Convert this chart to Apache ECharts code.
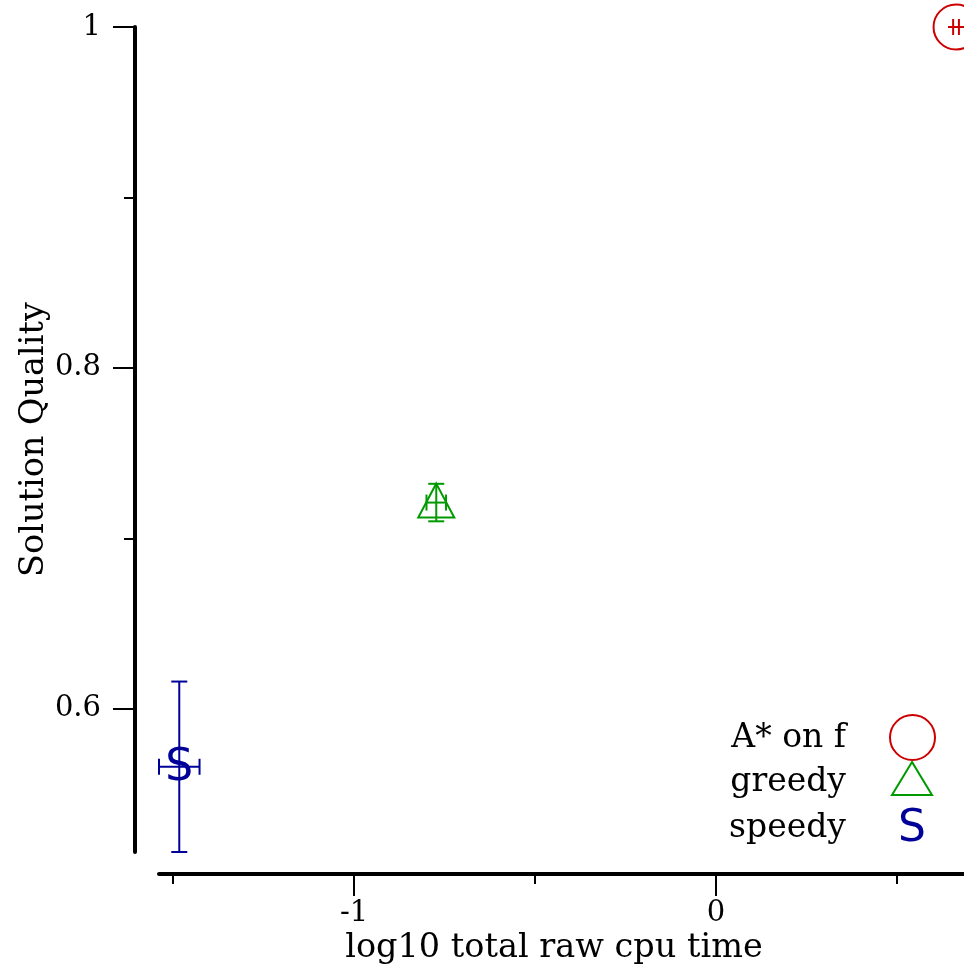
<!DOCTYPE html>
<html><head><meta charset="utf-8">
<script src="https://cdn.jsdelivr.net/npm/echarts@6/dist/echarts.min.js"></script>
<style>html,body{margin:0;padding:0;background:#fff}#c{width:964px;height:972px}</style>
</head><body><div id="c"></div>
<script>
// ---- data ----
const seriesNames = ['A* on f', 'greedy', 'speedy'];
const xValues = [0.663, -0.773, -1.483];   // log10 total raw cpu time
const yValues = [1.0, 0.721, 0.566];       // solution quality
const xErrors = [0.008, 0.027, 0.056];
const yErrors = [0.0, 0.011, 0.050];
const seriesColors = ['#cc0000', '#009900', '#000099'];
const markerKinds = ['circle', 'triangle', 'S'];
const yMajorTicks = [0.6, 0.8, 1.0];
const yMinorTicks = [0.7, 0.9];
const xMajorTicks = [-1, 0];
const xMinorTicks = [-1.5, -0.5, 0.5];
const xMin = -1.539, xMax = 0.685, yMin = 0.516, yMax = 1.0;

const SERIF = 'DejaVu Serif';
const chart = echarts.init(document.getElementById('c'), null, {renderer: 'canvas'});

function drawMarker(kind, cx, cy, color) {
  if (kind === 'circle') {
    return {type: 'circle', shape: {cx: cx, cy: cy, r: 22.5},
      style: {fill: 'none', stroke: color, lineWidth: 2}};
  }
  if (kind === 'triangle') {
    return {type: 'polygon', shape: {points: [[cx, cy - 19], [cx - 18, cy + 15], [cx + 18, cy + 15]]},
      style: {fill: 'none', stroke: color, lineWidth: 2}};
  }
  return {type: 'text', x: cx, y: cy + 2,
    style: {text: 'S', fill: color, font: '44px "DejaVu Sans"', align: 'center', verticalAlign: 'middle'}};
}

function makeRender(idx) {
  return function (params, api) {
    const x = api.value(0), y = api.value(1), xe = api.value(2), ye = api.value(3);
    const c = api.coord([x, y]);
    const t = api.coord([x, y + ye]), b = api.coord([x, y - ye]);
    const l = api.coord([x - xe, y]), r = api.coord([x + xe, y]);
    const color = seriesColors[idx];
    const ls = {stroke: color, lineWidth: 2};
    const cap = 8;
    const kids = [
      {type: 'line', shape: {x1: t[0], y1: t[1], x2: b[0], y2: b[1]}, style: ls},
      {type: 'line', shape: {x1: t[0] - cap, y1: t[1], x2: t[0] + cap, y2: t[1]}, style: ls},
      {type: 'line', shape: {x1: b[0] - cap, y1: b[1], x2: b[0] + cap, y2: b[1]}, style: ls},
      {type: 'line', shape: {x1: l[0], y1: l[1], x2: r[0], y2: r[1]}, style: ls},
      {type: 'line', shape: {x1: l[0], y1: l[1] - cap, x2: l[0], y2: l[1] + cap}, style: ls},
      {type: 'line', shape: {x1: r[0], y1: r[1] - cap, x2: r[0], y2: r[1] + cap}, style: ls},
      drawMarker(markerKinds[idx], c[0], c[1], color)
    ];
    return {type: 'group', children: kids};
  };
}

const series = seriesNames.map((n, i) => ({
  type: 'custom', name: n, xAxisIndex: 0, yAxisIndex: 0, clip: false,
  renderItem: makeRender(i),
  data: [[xValues[i], yValues[i], xErrors[i], yErrors[i]]]
}));

const legendX = 846, legendIconX = 912;
const legendRows = [738, 782, 828];
const legendGraphics = [];
seriesNames.forEach((n, i) => {
  legendGraphics.push({type: 'text', x: legendX, y: legendRows[i],
    style: {text: n, fill: '#000', font: '33px "' + SERIF + '"', align: 'right', verticalAlign: 'middle'}});
});
legendGraphics.push({type: 'circle', shape: {cx: legendIconX + 0.5, cy: 737.5, r: 22.5},
  style: {fill: 'none', stroke: seriesColors[0], lineWidth: 2}});
legendGraphics.push({type: 'polygon', shape: {points: [[legendIconX, 762], [legendIconX - 20, 795], [legendIconX + 20, 795]]},
  style: {fill: 'none', stroke: seriesColors[1], lineWidth: 2}});
legendGraphics.push({type: 'text', x: legendIconX, y: 830,
  style: {text: 'S', fill: seriesColors[2], font: '44px "DejaVu Sans"', align: 'center', verticalAlign: 'middle'}});

const axisLineStyle = {color: '#000', width: 4};
const option = {
  animation: false,
  backgroundColor: '#fff',
  grid: {left: 159, top: 27, width: 805, height: 825, containLabel: false},
  xAxis: [
    {type: 'value', min: xMin, max: xMax, position: 'bottom', offset: 22,
      axisLine: {show: true, onZero: false, lineStyle: axisLineStyle},
      axisTick: {show: true, length: 22, lineStyle: {color: '#000', width: 2}, customValues: xMajorTicks},
      axisLabel: {show: true, customValues: xMajorTicks, margin: 25, color: '#000', fontFamily: SERIF, fontSize: 29},
      splitLine: {show: false},
      name: 'log10 total raw cpu time', nameLocation: 'middle', nameGap: 57, nameMoveOverlap: false,
      nameTextStyle: {color: '#000', fontFamily: SERIF, fontSize: 33.5, padding: [0, 15, 0, 0]}},
    {type: 'value', min: xMin, max: xMax, position: 'bottom', offset: 22,
      axisLine: {show: false, onZero: false},
      axisTick: {show: true, length: 10, lineStyle: {color: '#000', width: 2}, customValues: xMinorTicks},
      axisLabel: {show: false}, splitLine: {show: false}}
  ],
  yAxis: [
    {type: 'value', min: yMin, max: yMax, position: 'left', offset: 24,
      axisLine: {show: true, onZero: false, lineStyle: axisLineStyle},
      axisTick: {show: true, length: 22, lineStyle: {color: '#000', width: 2}, customValues: yMajorTicks},
      axisLabel: {show: true, customValues: yMajorTicks, margin: 34, color: '#000', fontFamily: SERIF, fontSize: 29},
      splitLine: {show: false},
      name: 'Solution Quality', nameLocation: 'middle', nameGap: 84, nameMoveOverlap: false,
      nameTextStyle: {color: '#000', fontFamily: SERIF, fontSize: 33.5}},
    {type: 'value', min: yMin, max: yMax, position: 'left', offset: 24,
      axisLine: {show: false, onZero: false},
      axisTick: {show: true, length: 11, lineStyle: {color: '#000', width: 2}, customValues: yMinorTicks},
      axisLabel: {show: false}, splitLine: {show: false}}
  ],
  graphic: legendGraphics,
  series: series
};
chart.setOption(option);
</script>
</body></html>
